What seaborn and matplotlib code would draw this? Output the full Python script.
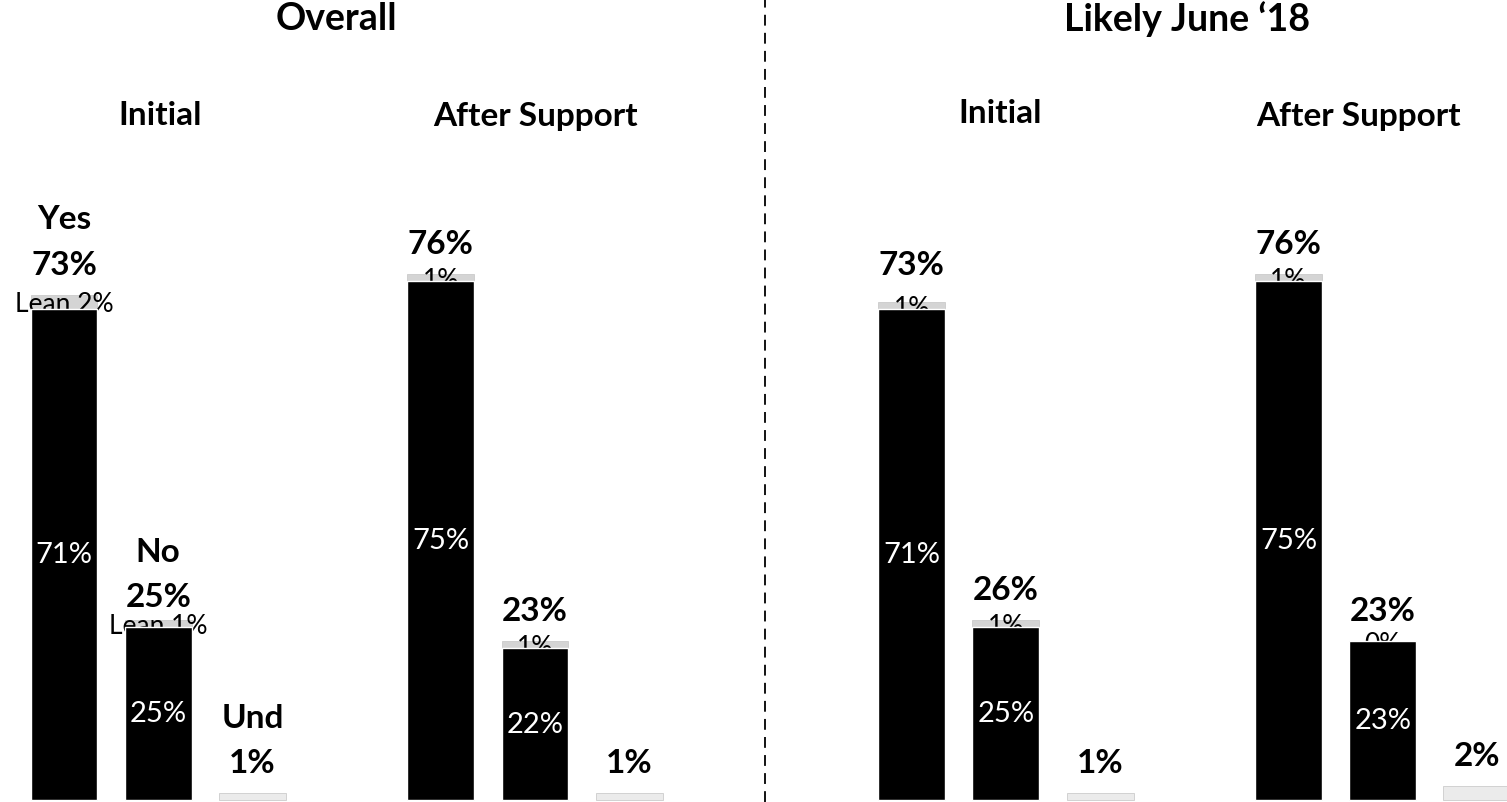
import pandas as pd
import seaborn as sns
import matplotlib.pyplot as plt

# values
groups = ["Overall Initial", "Overall After Support", "Likely Initial", "Likely After Support"]
answers = ["Yes", "No", "Und"]
firm_yes = [71, 75, 71, 75]
lean_yes = [2, 1, 1, 1]
total_yes = [73, 76, 73, 76]
firm_no = [25, 22, 25, 23]
lean_no = [1, 1, 1, 0]
total_no = [25, 23, 26, 23]
und = [1, 1, 1, 2]

panel_titles = ["Overall", "Likely June \u201818"]
sub_titles = ["Initial", "After Support", "Initial", "After Support"]

group_start = [0, 4, 9, 13]

rows = []
for g in range(len(groups)):
    rows.append(dict(group=groups[g], answer="Yes", pos=group_start[g], firm=firm_yes[g],
                     lean=lean_yes[g], total=total_yes[g]))
    rows.append(dict(group=groups[g], answer="No", pos=group_start[g] + 1, firm=firm_no[g],
                     lean=lean_no[g], total=total_no[g]))
    rows.append(dict(group=groups[g], answer="Und", pos=group_start[g] + 2, firm=0,
                     lean=und[g], total=und[g]))
df = pd.DataFrame(rows)
df["stack"] = df["firm"] + df["lean"]
yn = df[df["answer"] != "Und"]

sns.set_style("white")
plt.rcParams["font.family"] = ["Lato", "DejaVu Sans"]
plt.rcParams["text.color"] = "black"

fig = plt.figure(figsize=(15.07, 8.03), dpi=100)
ax = fig.add_axes([0, 0, 1, 1])

# lean segment / undecided (grey) under the firm bar
sns.barplot(data=df, x="pos", y="stack", hue="answer", dodge=False, native_scale=True,
            width=0.71, palette={"Yes": "#d4d4d4", "No": "#d4d4d4", "Und": "#ebebeb"},
            edgecolor="#c4c4c4", linewidth=0.5, ax=ax, zorder=1, errorbar=None,
            saturation=1, legend=False)
# lean labels sit on the middle of the lean segment, partly hidden by the firm bar
for _, r in yn.iterrows():
    lab = f"Lean {r['lean']}%" if r["group"] == groups[0] else f"{r['lean']}%"
    ax.text(r["pos"], r["firm"] + r["lean"] / 2 - 1.4, lab, ha="center", va="baseline",
            fontsize=19, zorder=2)
sns.barplot(data=yn, x="pos", y="firm", native_scale=True, width=0.71, color="black",
            ax=ax, zorder=3, errorbar=None, saturation=1)

for _, r in df.iterrows():
    if r["answer"] != "Und":
        ax.text(r["pos"], r["firm"] / 2, f"{r['firm']}%", ha="center", va="center",
                color="white", fontsize=21, zorder=4)
    ax.text(r["pos"], r["total"] + 3, f"{r['total']}%", ha="center", va="baseline",
            fontsize=24, fontweight="bold", zorder=4)
    if r["group"] == groups[0]:
        ax.text(r["pos"], r["total"] + 9.6, r["answer"], ha="center", va="baseline",
                fontsize=24, fontweight="bold", zorder=4)

title_x = [2.89, 11.92]
for t, x in zip(panel_titles, title_x):
    ax.text(x, 113.0, t, ha="center", va="center", fontsize=27, fontweight="bold")
sub_x = [1.02, 5.01, 9.94, 13.74]
sub_y = [99.1, 98.9, 99.4, 98.9]
for t, x, y in zip(sub_titles, sub_x, sub_y):
    ax.text(x, y, t, ha="center", va="center", fontsize=24, fontweight="bold")

ax.axvline(7.44, color="black", lw=1.3, ls=(0, (6, 4)))

ax.set_xlim(-0.68, 15.32)
ax.set_ylim(-0.29, 115.75)
ax.axis("off")

fig.savefig("out.png", dpi=100)
